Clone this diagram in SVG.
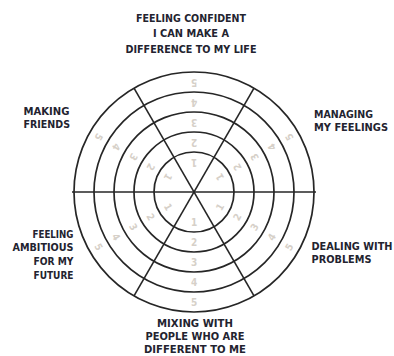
<svg xmlns="http://www.w3.org/2000/svg" width="394" height="356" viewBox="0 0 394 356">
<style>
.ring{fill:none;stroke:#262626;stroke-width:1.7}
.spoke{stroke:#262626;stroke-width:1.6}
.lbl{font-family:'DejaVu Sans Condensed','DejaVu Sans',sans-serif;font-stretch:condensed;font-weight:bold;font-size:11px;fill:#23232f}
.num{font-family:'DejaVu Sans Condensed','DejaVu Sans',sans-serif;font-stretch:condensed;font-weight:bold;font-size:10px;fill:#d6d0c8;text-anchor:middle;dominant-baseline:central}
</style>
<rect width="394" height="356" fill="#ffffff"/>
<g id="wheel">
<circle class="ring" cx="194" cy="192" r="120"/>
<circle class="ring" cx="194" cy="192" r="100"/>
<circle class="ring" cx="194" cy="192" r="80"/>
<circle class="ring" cx="194" cy="192" r="60"/>
<circle class="ring" cx="194" cy="192" r="40"/>
</g>
<g id="connectors">
<line class="spoke" x1="72" y1="192" x2="316" y2="192"/>
<line class="spoke" x1="134" y1="88.1" x2="254" y2="295.9"/>
<line class="spoke" x1="254" y1="88.1" x2="134" y2="295.9"/>
</g>
<g id="scale-top">
<text class="num" transform="translate(194,162) rotate(-180)">1</text>
<text class="num" transform="translate(194,142) rotate(-180)">2</text>
<text class="num" transform="translate(194,122) rotate(-180)">3</text>
<text class="num" transform="translate(194,102) rotate(-180)">4</text>
<text class="num" transform="translate(194,82) rotate(-180)">5</text>
</g>
<g id="scale-upper-right">
<text class="num" transform="translate(220,177) rotate(-120)">1</text>
<text class="num" transform="translate(237.3,167) rotate(-120)">2</text>
<text class="num" transform="translate(254.6,157) rotate(-120)">3</text>
<text class="num" transform="translate(271.9,147) rotate(-120)">4</text>
<text class="num" transform="translate(289.3,137) rotate(-120)">5</text>
</g>
<g id="scale-lower-right">
<text class="num" transform="translate(220,207) rotate(-60)">1</text>
<text class="num" transform="translate(237.3,217) rotate(-60)">2</text>
<text class="num" transform="translate(254.6,227) rotate(-60)">3</text>
<text class="num" transform="translate(271.9,237) rotate(-60)">4</text>
<text class="num" transform="translate(289.3,247) rotate(-60)">5</text>
</g>
<g id="scale-bottom">
<text class="num" transform="translate(194,222)">1</text>
<text class="num" transform="translate(194,242)">2</text>
<text class="num" transform="translate(194,262)">3</text>
<text class="num" transform="translate(194,282)">4</text>
<text class="num" transform="translate(194,302)">5</text>
</g>
<g id="scale-lower-left">
<text class="num" transform="translate(168,207) rotate(60)">1</text>
<text class="num" transform="translate(150.7,217) rotate(60)">2</text>
<text class="num" transform="translate(133.4,227) rotate(60)">3</text>
<text class="num" transform="translate(116.1,237) rotate(60)">4</text>
<text class="num" transform="translate(98.7,247) rotate(60)">5</text>
</g>
<g id="scale-upper-left">
<text class="num" transform="translate(168,177) rotate(120)">1</text>
<text class="num" transform="translate(150.7,167) rotate(120)">2</text>
<text class="num" transform="translate(133.4,157) rotate(120)">3</text>
<text class="num" transform="translate(116.1,147) rotate(120)">4</text>
<text class="num" transform="translate(98.7,137) rotate(120)">5</text>
</g>
<g id="label-confident">
<text class="lbl" x="191" y="21.5" text-anchor="middle" textLength="110" lengthAdjust="spacingAndGlyphs">FEELING CONFIDENT</text>
<text class="lbl" x="191" y="37" text-anchor="middle" textLength="76" lengthAdjust="spacingAndGlyphs">I CAN MAKE A</text>
<text class="lbl" x="191" y="52.5" text-anchor="middle" textLength="131" lengthAdjust="spacingAndGlyphs">DIFFERENCE TO MY LIFE</text>
</g>
<g id="label-friends">
<text class="lbl" x="23.5" y="114.5" textLength="46" lengthAdjust="spacingAndGlyphs">MAKING</text>
<text class="lbl" x="23.5" y="128" textLength="46.5" lengthAdjust="spacingAndGlyphs">FRIENDS</text>
</g>
<g id="label-feelings">
<text class="lbl" x="314" y="117.5" textLength="59" lengthAdjust="spacingAndGlyphs">MANAGING</text>
<text class="lbl" x="314" y="131" textLength="74" lengthAdjust="spacingAndGlyphs">MY FEELINGS</text>
</g>
<g id="label-ambitious">
<text class="lbl" x="73.5" y="237.5" text-anchor="end" textLength="41" lengthAdjust="spacingAndGlyphs">FEELING</text>
<text class="lbl" x="73.5" y="251" text-anchor="end" textLength="61" lengthAdjust="spacingAndGlyphs">AMBITIOUS</text>
<text class="lbl" x="73.5" y="265" text-anchor="end" textLength="40" lengthAdjust="spacingAndGlyphs">FOR MY</text>
<text class="lbl" x="73.5" y="279" text-anchor="end" textLength="40" lengthAdjust="spacingAndGlyphs">FUTURE</text>
</g>
<g id="label-problems">
<text class="lbl" x="311.5" y="249.5" textLength="81" lengthAdjust="spacingAndGlyphs">DEALING WITH</text>
<text class="lbl" x="311.5" y="263" textLength="60" lengthAdjust="spacingAndGlyphs">PROBLEMS</text>
</g>
<g id="label-mixing">
<text class="lbl" x="195" y="326.5" text-anchor="middle" textLength="76" lengthAdjust="spacingAndGlyphs">MIXING WITH</text>
<text class="lbl" x="195" y="340" text-anchor="middle" textLength="99" lengthAdjust="spacingAndGlyphs">PEOPLE WHO ARE</text>
<text class="lbl" x="195" y="353" text-anchor="middle" textLength="102" lengthAdjust="spacingAndGlyphs">DIFFERENT TO ME</text>
</g>
</svg>
